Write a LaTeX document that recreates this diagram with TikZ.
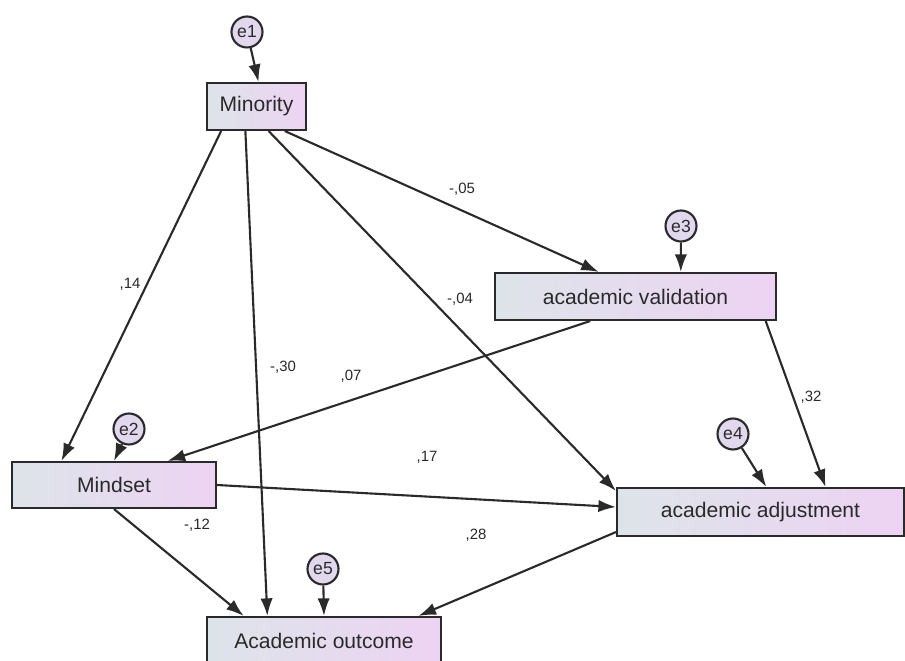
\documentclass[tikz,border=0pt]{standalone}
\usepackage{fontspec}
\setmainfont{Liberation Sans}
\usetikzlibrary{calc, arrows.meta}
\definecolor{boxleft}{HTML}{DDE4E9}
\definecolor{boxright}{HTML}{EDD3F3}
\definecolor{errfill}{HTML}{E2D8EE}
\definecolor{ink}{HTML}{2A2A2A}
\begin{document}
\begin{tikzpicture}[x=0.02cm, y=-0.02cm]
	\tikzset{var/.style={rectangle, draw=ink, line width=1.2pt, left color=boxleft, right color=boxright, text=ink, font=\fontsize{12}{14}\selectfont, inner sep=0pt, minimum height=0.94cm}};
	\tikzset{err/.style={circle, draw=ink, line width=1.2pt, fill=errfill, text=ink, font=\fontsize{10}{12}\selectfont, minimum size=0.62cm, inner sep=0pt}};
	\tikzset{link/.style={-{Latex[length=10pt, width=7pt]}, draw=ink, line width=1.2pt}};
	\tikzset{coef/.style={text=ink, font=\fontsize{8.5}{10}\selectfont, inner sep=1pt}};
	\useasboundingbox[fill=white] (0,0) rectangle (905,661);

	\node[var, minimum width=1.98cm] (min) at (256.5,106.5) {Minority};
	\node[var, minimum width=5.62cm] (val) at (635.5,296.5) {academic validation};
	\node[var, minimum width=4.08cm, minimum height=0.92cm] (mind) at (114,485) {Mindset};
	\node[var, minimum width=5.74cm, minimum height=0.96cm] (adj) at (760.5,512) {academic adjustment};
	\node[var, minimum width=4.68cm] (out) at (324,640.5) {Academic outcome};

	\node[err] (e1) at (247,32) {e1};
	\node[err] (e2) at (129,429) {e2};
	\node[err] (e3) at (681,226) {e3};
	\node[err] (e4) at (733,434) {e4};
	\node[err] (e5) at (323,569) {e5};

	% residual arrows
	\draw[link] (e1) -- ($(min.north west)!0.52!(min.north east)$);
	\draw[link] (e2) -- ($(mind.north west)!0.5!(mind.north east)$);
	\draw[link] (e3) -- ($(val.north west)!0.66!(val.north east)$);
	\draw[link] (e4) -- ($(adj.north west)!0.52!(adj.north east)$);
	\draw[link] (e5) -- ($(out.north west)!0.5!(out.north east)$);

	% paths
	\draw[link] ($(min.south west)!0.15!(min.south east)$) -- ($(mind.north west)!0.245!(mind.north east)$);
	\draw[link] ($(min.south west)!0.39!(min.south east)$) -- ($(out.north west)!0.26!(out.north east)$);
	\draw[link] ($(min.south west)!0.62!(min.south east)$) -- ($(adj.north west)!0.08!(adj.south west)$);
	\draw[link] ($(min.south west)!0.78!(min.south east)$) -- ($(val.north west)!0.37!(val.north east)$);
	\draw[link] ($(val.south west)!0.34!(val.south east)$) -- ($(mind.north west)!0.76!(mind.north east)$);
	\draw[link] ($(val.south west)!0.96!(val.south east)$) -- ($(adj.north west)!0.725!(adj.north east)$);
	\draw[link] (mind.east) -- ($(adj.north west)!0.4!(adj.south west)$);
	\draw[link] (mind.south) -- ($(out.north west)!0.16!(out.north east)$);
	\draw[link] ($(adj.north west)!0.9!(adj.south west)$) -- ($(out.north west)!0.9!(out.north east)$);

	\node[coef] (c14) at (130,284) {,14};
	\node[coef] (c30) at (283,367) {-,30};
	\node[coef] (c05) at (462,189) {-,05};
	\node[coef] (c04) at (460,299) {-,04};
	\node[coef] (c07) at (351,376) {,07};
	\node[coef] (c32) at (811,397) {,32};
	\node[coef] (c17) at (427,457) {,17};
	\node[coef] (c12) at (197,525) {-,12};
	\node[coef] (c28) at (476,535) {,28};
\end{tikzpicture}
\end{document}
